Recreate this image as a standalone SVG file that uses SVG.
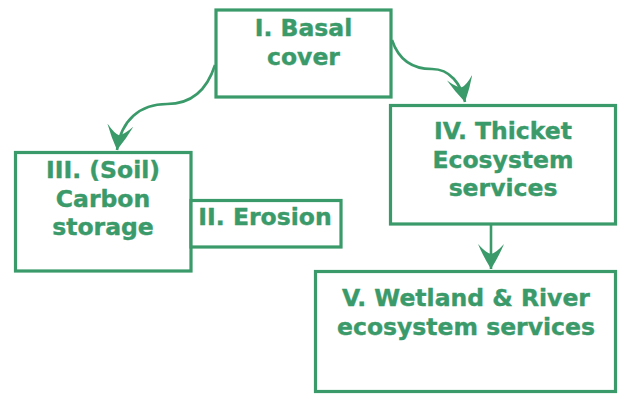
<svg xmlns="http://www.w3.org/2000/svg" width="623" height="394" viewBox="0 0 623 394">
<style>
.box{fill:#fff;stroke:#3a9a6a;stroke-width:3.2}
.t{font-family:"DejaVu Sans",Verdana,sans-serif;font-weight:bold;font-size:23.5px;fill:#3a9a6a;stroke:#3a9a6a;stroke-width:0.4;text-anchor:middle}
.c{fill:none;stroke:#3a9a6a;stroke-width:2.6}
</style>
<defs>
<marker id="ah" viewBox="0 0 26 26" refX="25" refY="13" markerWidth="26" markerHeight="26" markerUnits="userSpaceOnUse" orient="auto">
<path d="M25,13 Q12,5 0,0 Q9,8 10,13 Q9,18 0,26 Q12,21 25,13 Z" fill="#3a9a6a"/>
</marker>
</defs>
<rect width="623" height="394" fill="#fff"/>
<g id="connectors">
<path class="c" d="M215,65 C207,90 192,104 167,104 C140,104 121,120 117,150" marker-end="url(#ah)"/>
<path class="c" d="M392,40 C398,58 410,69 432,69 C450,69 461,84 465,102" marker-end="url(#ah)"/>
<path class="c" d="M491,225 L491,269" marker-end="url(#ah)"/>
</g>
<g id="n1">
<rect class="box" x="216" y="10" width="175" height="87"/>
<text class="t" x="303.5" y="36">I. Basal</text>
<text class="t" x="303.5" y="65">cover</text>
</g>
<g id="n3">
<rect class="box" x="15.5" y="152.5" width="175.5" height="118.5"/>
<text class="t" x="103" y="178">III. (Soil)</text>
<text class="t" x="103" y="206.5">Carbon</text>
<text class="t" x="103" y="235">storage</text>
</g>
<g id="n2">
<rect class="box" x="191" y="200.5" width="150" height="46.5"/>
<text class="t" x="265" y="225">II. Erosion</text>
</g>
<g id="n4">
<rect class="box" x="390.5" y="105.5" width="225" height="118.5"/>
<text class="t" x="503" y="139">IV. Thicket</text>
<text class="t" x="503" y="167.5">Ecosystem</text>
<text class="t" x="503" y="196">services</text>
</g>
<g id="n5">
<rect class="box" x="315.5" y="271.5" width="300" height="120"/>
<text class="t" x="466" y="306">V. Wetland &amp; River</text>
<text class="t" x="466" y="335">ecosystem services</text>
</g>
</svg>
